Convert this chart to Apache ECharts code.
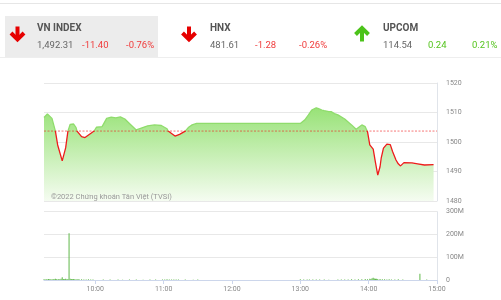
<!DOCTYPE html>
<html><head><meta charset="utf-8">
<script src="https://cdn.jsdelivr.net/npm/echarts@6/dist/echarts.min.js"></script>
<style>html,body{margin:0;padding:0;background:#fff}#c{width:501px;height:300px}</style>
</head><body><div id="c"></div>
<script>
// ---------- data ----------
const indexNames    = ['VN INDEX', 'HNX', 'UPCOM'];
const indexValues   = ['1,492.31', '481.61', '114.54'];
const indexChanges  = ['-11.40', '-1.28', '0.24'];
const indexPercents = ['-0.76%', '-0.26%', '0.21%'];
const indexUp       = [false, false, true];

const refPrice = 1503.71;
const priceTimes = ['09:15','09:18','09:22','09:25','09:27','09:31','09:34','09:36','09:38','09:41','09:43','09:44','09:48','09:51','09:55','09:59','10:01','10:06','10:10','10:14','10:18','10:22','10:26','10:30','10:36','10:41','10:46','10:52','10:58','11:03','11:04','11:10','11:14','11:19','11:22','11:25','11:29','13:00','13:04','13:07','13:10','13:14','13:16','13:19','13:21','13:23','13:25','13:27','13:30','13:33','13:39','13:45','13:49','13:54','13:57','13:59','14:01','14:04','14:06','14:08','14:10','14:11','14:13','14:16','14:17','14:19','14:21','14:24','14:26','14:28','14:31','14:38','14:43','14:49','14:57'];
const priceValues = [1508.3,1509.5,1508.0,1503.7,1499.0,1493.6,1498.0,1503.7,1506.0,1506.1,1505.0,1503.7,1501.8,1501.5,1502.6,1503.7,1505.0,1505.2,1508.0,1508.4,1508.2,1508.5,1507.8,1506.3,1504.1,1504.8,1505.5,1505.8,1505.6,1504.5,1503.7,1502.0,1502.6,1503.7,1505.0,1505.8,1506.3,1506.3,1507.5,1509.1,1510.8,1511.6,1511.3,1510.8,1510.6,1510.5,1510.3,1510.3,1509.6,1509.2,1507.8,1505.8,1504.3,1505.8,1505.2,1503.5,1499.0,1497.6,1493.0,1488.8,1491.6,1494.5,1497.9,1499.3,1499.6,1499.1,1496.8,1493.9,1492.6,1491.9,1493.0,1492.9,1492.6,1492.2,1492.3];

const volTimes = ['09:15','09:16','09:17','09:18','09:19','09:20','09:21','09:22','09:23','09:24','09:25','09:26','09:27','09:28','09:29','09:30','09:31','09:32','09:33','09:34','09:35','09:36','09:37','09:38','09:39','09:40','09:41','09:42','09:43','09:44','09:45','09:46','09:48','09:50','09:52','09:54','09:56','09:58',
  '10:07','10:13','10:20','10:24','10:30','10:36','10:42','10:48','10:53','10:59','11:01','11:03','11:05','11:07','11:09','11:11','11:13','11:19','11:26','11:30',
  '13:00','13:03','13:06','13:08','13:11','13:14','13:17','13:21','13:25','13:33','13:36','13:39','13:42','13:45','13:48','13:51','13:54','13:57','13:59','14:01','14:02','14:03','14:04','14:05','14:06','14:07','14:08','14:10','14:12','14:14','14:16','14:18','14:20','14:23','14:26','14:30','14:45','14:51'];
const volValues = [3,2,3,2,4,3,3,2,4,3,5,3,2,4,3,5,12,4,3,5,3,4,205,5,4,3,4,3,2,3,3,2,3,2,2,3,2,2,
  2,2,2,1.5,2,2,1.5,2,2,2,2,3,2,2,2,2,2,2,1.5,2,
  3,2,2,2,2,2,2,2,1.5,2,2,2,2,3,2,3,3,4,3,5,4,8,10,7,6,5,4,4,3,3,2,3,2,2,3,2,27,2]; // millions

const xTickTimes    = ['10:00','11:00','12:00','13:00','14:00','15:00'];
const volTickLabels = ['0','100M','200M','300M'];
const watermark = '©2022 Chứng khoán Tân Việt (TVSI)';

// ---------- helpers ----------
const toMin = t => { const p = t.split(':'); return +p[0] * 60 + +p[1]; };
const xMin = toMin('09:15'), xMax = toMin('15:00');
const tickVals = xTickTimes.map(toMin);
const fmtMin = v => String(Math.floor(v / 60)).padStart(2, '0') + ':' + String(v % 60).padStart(2, '0');

const RED = '#f03c3c', GREEN = '#55c41e', FONT = 'Roboto, sans-serif';

// ---------- header graphics ----------
const graphic = [
  { type: 'rect', shape: { x: 0, y: 3, width: 501, height: 1 }, style: { fill: '#e6e6e6' }, silent: true },
  { type: 'rect', shape: { x: 5, y: 16, width: 153, height: 41 }, style: { fill: '#ececec' }, silent: true },
  { type: 'rect', shape: { x: 0, y: 57, width: 501, height: 1 }, style: { fill: '#eeeeee' }, silent: true }
];
const arrowX = [17.5, 189, 362], nameX = [37, 210, 383], chgX = [82, 255, 428], pctX = [126, 299, 472];
indexNames.forEach((n, i) => {
  const up = indexUp[i], col = up ? '#4cc31a' : '#e60000', cx = arrowX[i];
  const shaft = up ? [[cx, 41.5], [cx, 28.5]] : [[cx, 26.5], [cx, 39.5]];
  const head = up ? [[cx - 6.5, 34.5], [cx, 28], [cx + 6.5, 34.5]] : [[cx - 6.5, 33], [cx, 39.5], [cx + 6.5, 33]];
  graphic.push({ type: 'polyline', shape: { points: shaft }, style: { stroke: col, lineWidth: 4, fill: null }, silent: true });
  graphic.push({ type: 'polyline', shape: { points: head }, style: { stroke: col, lineWidth: 4, fill: null, lineJoin: 'miter' }, silent: true });
  graphic.push({ type: 'text', x: nameX[i], y: 28.5, style: { text: n, fill: '#555', font: 'bold 10px ' + FONT, verticalAlign: 'middle' }, silent: true });
  graphic.push({ type: 'text', x: nameX[i], y: 46, style: { text: indexValues[i], fill: '#666', font: '9.5px ' + FONT, verticalAlign: 'middle' }, silent: true });
  const tc = up ? GREEN : RED;
  graphic.push({ type: 'text', x: chgX[i], y: 46, style: { text: indexChanges[i], fill: tc, font: '9.5px ' + FONT, verticalAlign: 'middle' }, silent: true });
  graphic.push({ type: 'text', x: pctX[i], y: 46, style: { text: indexPercents[i], fill: tc, font: '9.5px ' + FONT, verticalAlign: 'middle' }, silent: true });
});
graphic.push({ type: 'text', x: 51, y: 197, style: { text: watermark, fill: '#999', font: '7.5px ' + FONT, verticalAlign: 'middle' }, silent: true, z: 10 });

// ---------- chart ----------
const chart = echarts.init(document.getElementById('c'), null, { renderer: 'canvas' });
const axisLabelStyle = { color: '#888', fontSize: 7, fontFamily: FONT };
chart.setOption({
  animation: false,
  graphic,
  grid: [
    { left: 44, right: 64, top: 83, height: 118 },
    { left: 44, right: 64, top: 211.7, height: 68.3 }
  ],
  xAxis: [
    { type: 'value', gridIndex: 0, min: xMin, max: xMax, show: true,
      axisLine: { show: false }, axisTick: { show: false }, axisLabel: { show: false }, splitLine: { show: false } },
    { type: 'value', gridIndex: 1, min: xMin, max: xMax,
      axisLine: { show: true, lineStyle: { color: '#ccd6eb' } },
      axisTick: { show: true, length: 4, lineStyle: { color: '#ccd6eb' }, customValues: tickVals },
      axisLabel: { ...axisLabelStyle, margin: 6, customValues: tickVals, formatter: v => fmtMin(v) },
      splitLine: { show: false } }
  ],
  yAxis: [
    { type: 'value', gridIndex: 0, position: 'right', min: 1480, max: 1520, interval: 10,
      axisLine: { show: true, lineStyle: { color: '#e0e4ea' } }, axisTick: { show: false },
      axisLabel: { ...axisLabelStyle, margin: 9, formatter: v => String(v) },
      splitLine: { lineStyle: { color: '#e8e8e8' } } },
    { type: 'value', gridIndex: 1, position: 'right', min: 0, max: 300, interval: 100,
      axisLine: { show: true, lineStyle: { color: '#e0e4ea' } }, axisTick: { show: false },
      axisLabel: { ...axisLabelStyle, margin: 9, formatter: v => volTickLabels[Math.round(v / 100)] },
      splitLine: { lineStyle: { color: '#e8e8e8' } } }
  ],
  visualMap: {
    type: 'piecewise', show: false, seriesIndex: 0, dimension: 1,
    pieces: [{ gt: refPrice, lte: 2000, color: '#8fdc6c' }, { gt: 1000, lte: refPrice, color: '#ee1c1c' }]
  },
  series: [
    { type: 'line', xAxisIndex: 0, yAxisIndex: 0, showSymbol: false, symbol: 'none', z: 2,
      data: priceTimes.map((t, i) => [toMin(t), priceValues[i]]),
      lineStyle: { width: 1.3 },
      areaStyle: { origin: 'start', opacity: 1, color: new echarts.graphic.LinearGradient(0, 0, 0, 1, [
        { offset: 0, color: '#98e277' }, { offset: 1, color: '#f5fcf1' }]) }
    },
    { type: 'line', xAxisIndex: 0, yAxisIndex: 0, showSymbol: false, symbol: 'none', z: 3, silent: true,
      data: [[xMin, refPrice], [xMax, refPrice]],
      lineStyle: { color: 'rgba(240,30,30,0.6)', type: [2, 1.5], width: 1 } },
    { type: 'bar', xAxisIndex: 1, yAxisIndex: 1, barWidth: 1,
      data: volTimes.map((t, i) => [toMin(t), volValues[i]]),
      itemStyle: { color: '#5fb84a' } }
  ]
});
</script></body></html>
